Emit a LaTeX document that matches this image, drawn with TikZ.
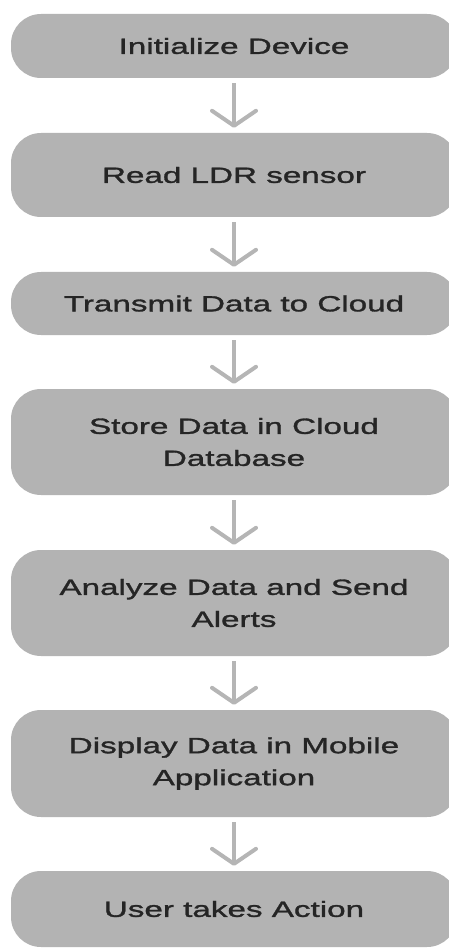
\documentclass[tikz,border=0pt]{standalone}
\usepackage{fontspec}
\usepackage{tikz}
\usetikzlibrary{arrows.meta}
\newfontfamily\boxfont[FakeStretch=1.51, FakeBold=1.4]{Liberation Sans}
\definecolor{caja}{HTML}{B3B3B3}
\definecolor{flecha}{HTML}{B5B5B5}
\definecolor{texto}{HTML}{252525}

\begin{document}
\begin{tikzpicture}[x = 1pt, y = -1pt,
	stepbox/.style = {fill = caja, rounded corners = 30pt, minimum width = 446pt, inner sep = 0pt, align = center, text = texto, font = \boxfont\fontsize{22}{32}\selectfont},
	flow/.style = {flecha, line width = 4pt, shorten <= 5pt, shorten >= 5pt, -{Straight Barb[length = 15pt, width = 44pt, round]}}]
						\useasboundingbox (0,0) rectangle (449,949);
						\node[stepbox, minimum height = 64pt] (init) at (234,46) {Initialize Device};
						\node[stepbox, minimum height = 84pt] (ldr) at (234,175) {Read LDR sensor};
						\node[stepbox, minimum height = 63pt] (send) at (234,303.5) {Transmit Data to Cloud};
						\node[stepbox, minimum height = 106pt] (store) at (234,442) {Store Data in Cloud\\Database};
						\node[stepbox, minimum height = 106pt] (alert) at (234,603) {Analyze Data and Send\\Alerts};
						\node[stepbox, minimum height = 107pt] (app) at (234,763.5) {Display Data in Mobile\\Application};
						\node[stepbox, minimum height = 76pt] (user) at (234,909) {User takes Action};
						\draw[flow] (init) -- (ldr);
						\draw[flow] (ldr) -- (send);
						\draw[flow] (send) -- (store);
						\draw[flow] (store) -- (alert);
						\draw[flow] (alert) -- (app);
						\draw[flow] (app) -- (user);
					\end{tikzpicture}
\end{document}
